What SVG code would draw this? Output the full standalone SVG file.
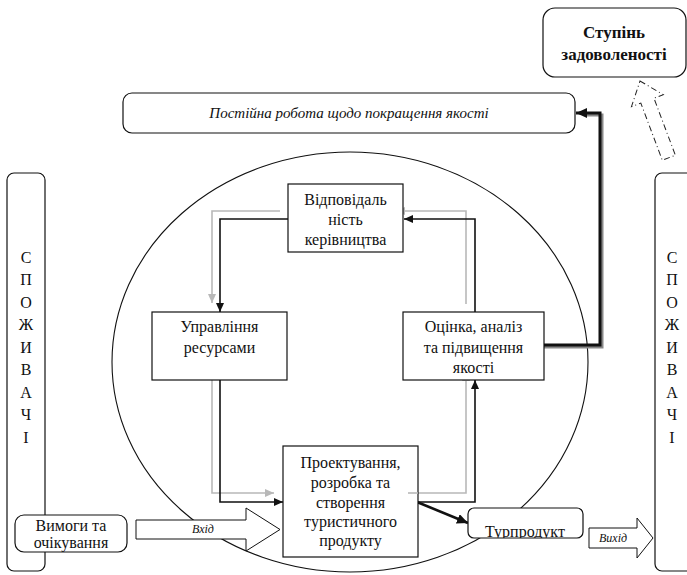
<svg xmlns="http://www.w3.org/2000/svg" width="687" height="575" viewBox="0 0 687 575">
<defs>
<marker id="ab" markerUnits="userSpaceOnUse" markerWidth="10" markerHeight="8" refX="9" refY="4" orient="auto"><path d="M0,0 L9,4 L0,8 z" fill="#111"/></marker>
<marker id="ag" markerUnits="userSpaceOnUse" markerWidth="10" markerHeight="8" refX="9" refY="4" orient="auto"><path d="M0,0 L9,4 L0,8 z" fill="#b8b8b8"/></marker>
<marker id="abig" markerUnits="userSpaceOnUse" markerWidth="12" markerHeight="10" refX="11" refY="5" orient="auto"><path d="M0,0 L11,5 L0,10 z" fill="#111"/></marker>
<clipPath id="tpclip"><rect x="468" y="508" width="115" height="30"/></clipPath>
</defs>

<ellipse id="cycle" cx="350" cy="362" rx="238" ry="210" fill="none" stroke="#111" stroke-width="1.1"/>

<g id="connectors" fill="none" stroke-width="1.6">
  <g stroke="#b8b8b8" marker-end="url(#ag)">
    <polyline points="280,211 212,211 212,303"/>
    <polyline points="466,304 466,211 396,211"/>
    <polyline points="212,372 212,493 274,493"/>
    <polyline points="408,493 466,493 466,372"/>
  </g>
  <g stroke="#111" marker-end="url(#ab)">
    <polyline points="288,219 220,219 220,312"/>
    <polyline points="475,312 475,219 404,219"/>
    <polyline points="220,380 220,502 283,502"/>
    <polyline points="416,502 475,502 475,380"/>
  </g>
  <line x1="417" y1="502" x2="468" y2="523" stroke="#111" stroke-width="2.6" marker-end="url(#abig)"/>
  <polyline points="544,347 602,347 602,115 586,115" stroke="#888" stroke-width="3"/>
  <polyline points="543,345 600,345 600,113 576,113" stroke="#111" stroke-width="3" marker-end="url(#abig)"/>
</g>

<g id="satisfaction">
  <rect x="543" y="8" width="143" height="69" rx="12" fill="#fff" stroke="#111" stroke-width="1.2"/>
  <text font-family="Liberation Serif" font-weight="bold" font-size="17" text-anchor="middle" fill="#111" x="614" y="38">Ступінь</text>
  <text font-family="Liberation Serif" font-weight="bold" font-size="17" text-anchor="middle" fill="#111" x="614" y="60">задоволеності</text>
</g>

<g id="satisfaction-arrow">
  <polygon transform="translate(640,81) rotate(-20.6)" points="0,0 17,21 7,21 7,82 -7,82 -7,21 -17,21" fill="#fff" stroke="#222" stroke-width="1" stroke-dasharray="6,3,1,3"/>
</g>

<g id="improvement">
  <rect x="123" y="93" width="452" height="40" rx="9" fill="#fff" stroke="#111" stroke-width="1.2"/>
  <text font-family="Liberation Serif" font-style="italic" font-size="15" text-anchor="middle" fill="#111" x="349" y="118">Постійна робота щодо покращення якості</text>
</g>

<g id="consumers-left">
  <rect x="7" y="173" width="38" height="398" rx="7" fill="#fff" stroke="#111" stroke-width="1.2"/>
  <text font-family="Liberation Serif" font-size="16" text-anchor="middle" fill="#111" x="26" y="263">С</text>
  <text font-family="Liberation Serif" font-size="16" text-anchor="middle" fill="#111" x="26" y="285">П</text>
  <text font-family="Liberation Serif" font-size="16" text-anchor="middle" fill="#111" x="26" y="308">О</text>
  <text font-family="Liberation Serif" font-size="16" text-anchor="middle" fill="#111" x="26" y="330">Ж</text>
  <text font-family="Liberation Serif" font-size="16" text-anchor="middle" fill="#111" x="26" y="353">И</text>
  <text font-family="Liberation Serif" font-size="16" text-anchor="middle" fill="#111" x="26" y="375">В</text>
  <text font-family="Liberation Serif" font-size="16" text-anchor="middle" fill="#111" x="26" y="398">А</text>
  <text font-family="Liberation Serif" font-size="16" text-anchor="middle" fill="#111" x="26" y="420">Ч</text>
  <text font-family="Liberation Serif" font-size="16" text-anchor="middle" fill="#111" x="26" y="443">І</text>
</g>

<g id="consumers-right">
  <rect x="655" y="173" width="50" height="398" rx="7" fill="#fff" stroke="#111" stroke-width="1.2"/>
  <text font-family="Liberation Serif" font-size="16" text-anchor="middle" fill="#111" x="672" y="263">С</text>
  <text font-family="Liberation Serif" font-size="16" text-anchor="middle" fill="#111" x="672" y="285">П</text>
  <text font-family="Liberation Serif" font-size="16" text-anchor="middle" fill="#111" x="672" y="308">О</text>
  <text font-family="Liberation Serif" font-size="16" text-anchor="middle" fill="#111" x="672" y="330">Ж</text>
  <text font-family="Liberation Serif" font-size="16" text-anchor="middle" fill="#111" x="672" y="353">И</text>
  <text font-family="Liberation Serif" font-size="16" text-anchor="middle" fill="#111" x="672" y="375">В</text>
  <text font-family="Liberation Serif" font-size="16" text-anchor="middle" fill="#111" x="672" y="398">А</text>
  <text font-family="Liberation Serif" font-size="16" text-anchor="middle" fill="#111" x="672" y="420">Ч</text>
  <text font-family="Liberation Serif" font-size="16" text-anchor="middle" fill="#111" x="672" y="443">І</text>
</g>

<g id="requirements">
  <rect x="15" y="515" width="112" height="37" rx="9" fill="#fff" stroke="#111" stroke-width="1.2"/>
  <text font-family="Liberation Serif" font-size="16" text-anchor="middle" fill="#111" x="71" y="531">Вимоги та</text>
  <text font-family="Liberation Serif" font-size="16" text-anchor="middle" fill="#111" x="71" y="548">очікування</text>
</g>

<g id="input">
  <polygon points="136,520 246,520 246,508 280,529.5 246,551 246,539 136,539" fill="#fff" stroke="#111" stroke-width="1"/>
  <text font-family="Liberation Serif" font-style="italic" font-size="12" text-anchor="middle" fill="#111" x="203" y="533">Вхід</text>
</g>

<g id="responsibility">
  <rect x="288" y="184" width="115" height="68" fill="#fff" stroke="#111" stroke-width="1.2"/>
  <text font-family="Liberation Serif" font-size="16" text-anchor="middle" fill="#111" x="345.5" y="205">Відповідаль</text>
  <text font-family="Liberation Serif" font-size="16" text-anchor="middle" fill="#111" x="345.5" y="225">ність</text>
  <text font-family="Liberation Serif" font-size="16" text-anchor="middle" fill="#111" x="345.5" y="245">керівництва</text>
</g>

<g id="resources">
  <rect x="152" y="312" width="135" height="68" fill="#fff" stroke="#111" stroke-width="1.2"/>
  <text font-family="Liberation Serif" font-size="16" text-anchor="middle" fill="#111" x="219.5" y="332">Управління</text>
  <text font-family="Liberation Serif" font-size="16" text-anchor="middle" fill="#111" x="219.5" y="353">ресурсами</text>
</g>

<g id="evaluation">
  <rect x="403" y="312" width="141" height="68" fill="#fff" stroke="#111" stroke-width="1.2"/>
  <text font-family="Liberation Serif" font-size="16" text-anchor="middle" fill="#111" x="473.5" y="332">Оцінка, аналіз</text>
  <text font-family="Liberation Serif" font-size="16" text-anchor="middle" fill="#111" x="473.5" y="353">та підвищення</text>
  <text font-family="Liberation Serif" font-size="16" text-anchor="middle" fill="#111" x="473.5" y="373">якості</text>
</g>

<g id="design">
  <rect x="283" y="446" width="135" height="111" fill="#fff" stroke="#111" stroke-width="1.2"/>
  <text font-family="Liberation Serif" font-size="16" text-anchor="middle" fill="#111" x="350.5" y="468">Проектування,</text>
  <text font-family="Liberation Serif" font-size="16" text-anchor="middle" fill="#111" x="350.5" y="488">розробка та</text>
  <text font-family="Liberation Serif" font-size="16" text-anchor="middle" fill="#111" x="350.5" y="508">створення</text>
  <text font-family="Liberation Serif" font-size="16" text-anchor="middle" fill="#111" x="350.5" y="527">туристичного</text>
  <text font-family="Liberation Serif" font-size="16" text-anchor="middle" fill="#111" x="350.5" y="546">продукту</text>
</g>
<polyline points="408,493 418,493" fill="none" stroke="#b8b8b8" stroke-width="1.6"/>

<g id="tourproduct">
  <rect x="468" y="508" width="115" height="30" rx="6" fill="#fff" stroke="#111" stroke-width="1.2"/>
  <text font-family="Liberation Serif" font-size="16" text-anchor="middle" fill="#111" x="525" y="537" clip-path="url(#tpclip)">Турпродукт</text>
</g>

<g id="output">
  <polygon points="589,528 637,528 637,518 653,538 637,558 637,548 589,548" fill="#fff" stroke="#111" stroke-width="1"/>
  <text font-family="Liberation Serif" font-style="italic" font-size="12" text-anchor="middle" fill="#111" x="613" y="542">Вихід</text>
</g>
</svg>
